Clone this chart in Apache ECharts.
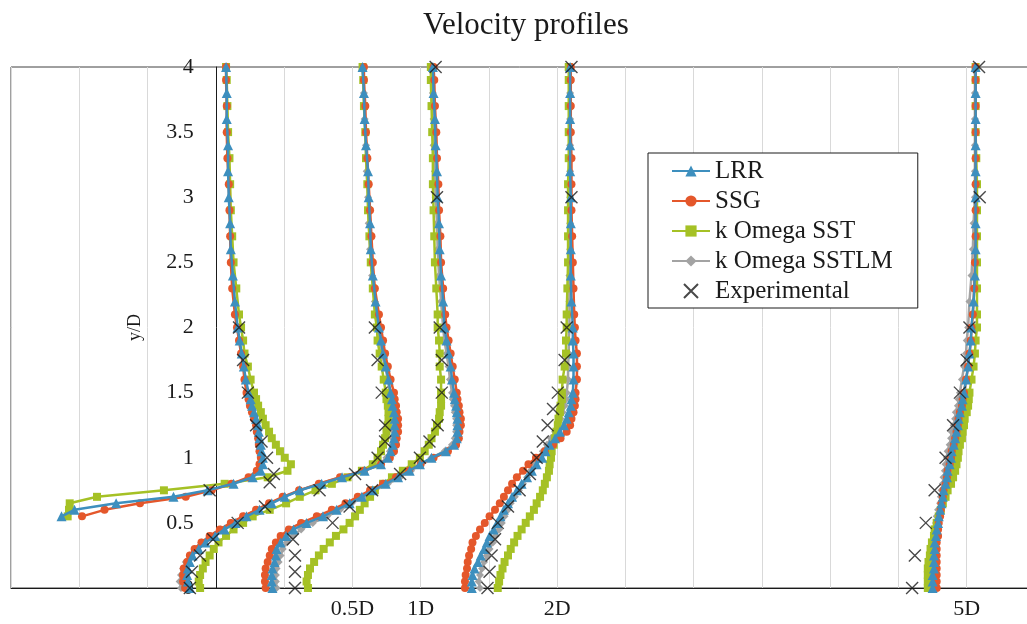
<!DOCTYPE html>
<html>
<head>
<meta charset="utf-8">
<script src="https://cdn.jsdelivr.net/npm/echarts@6/dist/echarts.min.js"></script>
<style>
html,body{margin:0;padding:0;background:#fff;}
#chart{width:1027px;height:624px;}
</style>
</head>
<body>
<div id="chart"></div>
<script>
// y/D sampling levels (LRR and SSTLM use the "even" upper levels, SSG and SST the "odd" ones)
const yLevels = [0,0.05,0.1,0.15,0.2,0.25,0.3,0.35,0.4,0.45,0.5,0.55,0.6,0.65,0.7,0.75,0.8,0.85,0.9,0.95,1,1.05,1.1,1.15,1.2,1.25,1.3,1.35,1.4,1.45,1.5,1.6,1.7,1.8,1.9,2,2.2,2.4,2.6,2.8,3,3.2,3.4,3.6,3.8,4];
const yLevelsOdd = [0,0.05,0.1,0.15,0.2,0.25,0.3,0.35,0.4,0.45,0.5,0.55,0.6,0.65,0.7,0.75,0.8,0.85,0.9,0.95,1,1.05,1.1,1.15,1.2,1.25,1.3,1.35,1.4,1.45,1.5,1.6,1.7,1.8,1.9,2,2.1,2.3,2.5,2.7,2.9,3.1,3.3,3.5,3.7,3.9,4];
const yLevelsA = [0.55,0.6,0.65,0.7,0.75,0.8,0.85,0.9,0.95,1,1.05,1.1,1.15,1.2,1.25,1.3,1.35,1.4,1.45,1.5,1.6,1.7,1.8,1.9,2,2.2,2.4,2.6,2.8,3,3.2,3.4,3.6,3.8,4];
const yLevelsAOdd = [0.55,0.6,0.65,0.7,0.75,0.8,0.85,0.9,0.95,1,1.05,1.1,1.15,1.2,1.25,1.3,1.35,1.4,1.45,1.5,1.6,1.7,1.8,1.9,2,2.1,2.3,2.5,2.7,2.9,3.1,3.3,3.5,3.7,3.9,4];

// Station A (first profile)
const LRR_A = [-2.26,-2.07,-1.46,-0.62,-0.12,0.26,0.54,0.66,0.69,0.69,0.67,0.66,0.64,0.63,0.62,0.59,0.56,0.53,0.51,0.48,0.44,0.41,0.38,0.35,0.32,0.28,0.25,0.22,0.21,0.19,0.18,0.18,0.16,0.16,0.15];
const SSG_A = [-1.96,-1.63,-1.11,-0.44,-0.06,0.23,0.48,0.60,0.64,0.66,0.64,0.63,0.62,0.60,0.59,0.56,0.53,0.50,0.48,0.45,0.42,0.40,0.37,0.34,0.31,0.28,0.24,0.22,0.21,0.20,0.19,0.17,0.16,0.16,0.15,0.15];
const SST_A = [-2.17,-2.15,-2.14,-1.74,-0.76,0.13,0.76,1.05,1.10,1.01,0.94,0.88,0.82,0.78,0.73,0.69,0.66,0.62,0.59,0.56,0.51,0.47,0.42,0.40,0.37,0.34,0.30,0.26,0.24,0.22,0.21,0.20,0.18,0.17,0.16,0.15];

// Station 0.5D
const LRR_B = [-0.38,-0.41,-0.42,-0.41,-0.38,-0.34,-0.25,-0.15,-0.01,0.13,0.29,0.45,0.64,0.82,1.01,1.23,1.55,1.85,2.18,2.42,2.52,2.56,2.59,2.61,2.62,2.62,2.62,2.61,2.59,2.58,2.56,2.53,2.49,2.45,2.42,2.39,2.34,2.30,2.27,2.26,2.24,2.23,2.20,2.18,2.17,2.15];
const SSG_B = [-0.45,-0.48,-0.48,-0.47,-0.42,-0.38,-0.31,-0.21,-0.09,0.06,0.22,0.40,0.59,0.78,0.98,1.22,1.51,1.82,2.17,2.42,2.55,2.61,2.64,2.65,2.67,2.67,2.67,2.65,2.64,2.62,2.61,2.56,2.52,2.48,2.45,2.42,2.39,2.33,2.30,2.28,2.26,2.24,2.22,2.20,2.19,2.17,2.17];
const SST_B = [-0.23,-0.25,-0.23,-0.19,-0.15,-0.09,-0.03,0.04,0.15,0.26,0.40,0.54,0.79,1.03,1.23,1.46,1.70,1.93,2.14,2.30,2.37,2.42,2.45,2.48,2.50,2.52,2.53,2.53,2.52,2.50,2.49,2.46,2.43,2.40,2.37,2.36,2.33,2.30,2.27,2.25,2.23,2.22,2.20,2.19,2.17,2.16,2.15];
const SSTLM_B = [-0.51,-0.53,-0.51,-0.48,-0.44,-0.38,-0.31,-0.21,-0.07,0.07,0.23,0.41,0.60,0.79,1.00,1.23,1.52,1.83,2.17,2.40,2.50,2.55,2.58,2.59,2.61,2.61,2.61,2.59,2.58,2.56,2.55,2.52,2.48,2.43,2.40,2.37,2.33,2.29,2.26,2.24,2.23,2.21,2.20,2.18,2.17,2.15];

// Station 1D
const LRR_C = [0.83,0.82,0.82,0.83,0.86,0.88,0.89,0.95,1.03,1.14,1.33,1.57,1.77,1.96,2.14,2.30,2.49,2.67,2.84,2.99,3.16,3.37,3.49,3.53,3.54,3.54,3.54,3.53,3.52,3.50,3.49,3.46,3.44,3.41,3.38,3.35,3.33,3.30,3.28,3.27,3.25,3.24,3.22,3.21,3.19,3.18];
const SSG_C = [0.73,0.72,0.72,0.73,0.76,0.79,0.82,0.88,0.95,1.07,1.25,1.48,1.70,1.90,2.08,2.26,2.45,2.64,2.83,3.00,3.19,3.40,3.52,3.56,3.57,3.59,3.59,3.57,3.56,3.54,3.53,3.50,3.47,3.44,3.41,3.38,3.36,3.33,3.30,3.29,3.27,3.26,3.24,3.23,3.21,3.20,3.19];
const SST_C = [1.35,1.33,1.35,1.38,1.44,1.51,1.58,1.67,1.76,1.87,1.96,2.04,2.11,2.18,2.26,2.33,2.45,2.58,2.74,2.87,2.99,3.06,3.12,3.16,3.21,3.24,3.27,3.28,3.30,3.30,3.30,3.30,3.28,3.28,3.27,3.25,3.25,3.23,3.21,3.20,3.19,3.18,3.18,3.17,3.16,3.15,3.15];
const SSTLM_C = [0.89,0.88,0.88,0.89,0.92,0.95,0.98,1.04,1.13,1.25,1.42,1.63,1.82,1.99,2.17,2.33,2.52,2.70,2.86,3.00,3.16,3.35,3.46,3.50,3.52,3.52,3.52,3.50,3.49,3.47,3.46,3.43,3.41,3.38,3.35,3.33,3.30,3.27,3.25,3.24,3.22,3.21,3.19,3.19,3.18,3.16];

// Station 2D
const LRR_D = [3.75,3.75,3.76,3.79,3.84,3.88,3.93,3.97,4.01,4.07,4.12,4.17,4.22,4.28,4.34,4.41,4.48,4.56,4.63,4.70,4.78,4.83,4.89,4.97,5.04,5.10,5.14,5.17,5.20,5.21,5.23,5.24,5.24,5.24,5.23,5.23,5.21,5.20,5.20,5.20,5.20,5.19,5.19,5.19,5.19,5.19];
const SSG_D = [3.65,3.65,3.66,3.68,3.69,3.71,3.74,3.76,3.81,3.87,3.94,4.01,4.09,4.16,4.22,4.28,4.34,4.41,4.50,4.58,4.69,4.82,4.94,5.05,5.14,5.19,5.21,5.24,5.26,5.27,5.27,5.29,5.29,5.29,5.27,5.26,5.25,5.24,5.23,5.22,5.21,5.21,5.21,5.20,5.20,5.20,5.20];
const SST_D = [4.13,4.15,4.17,4.20,4.23,4.28,4.32,4.37,4.42,4.48,4.54,4.60,4.66,4.70,4.75,4.79,4.82,4.85,4.88,4.89,4.91,4.92,4.95,4.97,4.99,5.01,5.02,5.04,5.05,5.07,5.07,5.08,5.11,5.13,5.13,5.14,5.14,5.15,5.16,5.16,5.16,5.16,5.17,5.17,5.17,5.17,5.17];
const SSTLM_D = [3.87,3.85,3.87,3.90,3.93,3.97,4.01,4.06,4.10,4.15,4.19,4.23,4.28,4.32,4.38,4.44,4.50,4.56,4.61,4.67,4.73,4.79,4.85,4.91,4.97,5.01,5.05,5.08,5.11,5.13,5.14,5.16,5.16,5.17,5.17,5.18,5.18,5.18,5.19,5.19,5.19,5.19,5.19,5.19,5.19,5.19];

// Station 5D
const LRR_E = [10.50,10.50,10.50,10.52,10.52,10.52,10.53,10.53,10.55,10.56,10.58,10.59,10.61,10.63,10.65,10.66,10.69,10.71,10.72,10.75,10.77,10.78,10.81,10.83,10.85,10.87,10.88,10.90,10.93,10.94,10.96,10.99,11.02,11.04,11.06,11.07,11.10,11.12,11.13,11.13,11.13,11.13,11.13,11.13,11.13,11.13];
const SSG_E = [10.56,10.56,10.56,10.56,10.56,10.56,10.56,10.56,10.58,10.58,10.59,10.61,10.62,10.63,10.65,10.66,10.69,10.71,10.72,10.75,10.77,10.78,10.81,10.83,10.85,10.87,10.88,10.90,10.93,10.94,10.96,10.99,11.02,11.04,11.06,11.07,11.09,11.11,11.12,11.13,11.13,11.13,11.13,11.13,11.13,11.13,11.13];
const SST_E = [10.43,10.43,10.43,10.43,10.44,10.46,10.47,10.49,10.52,10.53,10.56,10.59,10.62,10.65,10.69,10.72,10.77,10.80,10.83,10.85,10.87,10.88,10.90,10.93,10.94,10.96,10.97,11.00,11.02,11.03,11.04,11.07,11.10,11.12,11.13,11.15,11.15,11.15,11.15,11.15,11.15,11.15,11.14,11.13,11.13,11.13,11.13];
const SSTLM_E = [10.49,10.49,10.49,10.50,10.50,10.50,10.52,10.52,10.53,10.53,10.55,10.56,10.58,10.61,10.62,10.63,10.65,10.66,10.68,10.69,10.71,10.72,10.75,10.77,10.78,10.81,10.83,10.84,10.87,10.88,10.90,10.93,10.96,10.99,11.00,11.02,11.04,11.07,11.09,11.10,11.12,11.12,11.12,11.12,11.12,11.12];

// Experimental points
const expY_A = [0.75,0.8125,0.875,1,1.125,1.25,1.5,1.75,2];
const expX_A = [-0.09,0.79,0.85,0.75,0.67,0.59,0.47,0.40,0.34];
const expY_B = [0,0.125,0.25,0.375,0.5,0.625,0.75,0.875,1,1.125,1.25,1.5,1.75,2];
const expX_B = [-0.38,-0.35,-0.23,-0.04,0.32,0.72,1.52,2.04,2.37,2.48,2.48,2.43,2.37,2.33];
const expY_C = [0,0.125,0.25,0.375,0.5,0.625,0.75,0.875,1,1.125,1.25,1.5,1.75,2,3,4];
const expX_C = [1.16,1.16,1.16,1.13,1.71,1.96,2.29,2.70,2.99,3.13,3.25,3.31,3.31,3.28,3.24,3.22];
const expY_D = [0,0.125,0.25,0.375,0.5,0.625,0.75,0.875,1,1.125,1.25,1.375,1.5,1.75,2,3,4];
const expX_D = [3.98,4.01,4.04,4.09,4.13,4.28,4.45,4.60,4.70,4.79,4.86,4.94,5.01,5.11,5.14,5.21,5.21];
const expY_E = [0,0.25,0.5,0.75,1,1.25,1.5,1.75,2,3,4];
const expX_E = [10.20,10.24,10.40,10.53,10.69,10.80,10.90,11.00,11.04,11.19,11.18];

// Axis tick labels
const xTickValues = [2,3,5,11];
const xTickLabels = ['0.5D','1D','2D','5D'];
const legendNames = ['LRR','SSG','k Omega SST','k Omega SSTLM','Experimental'];

const FONT = 'Liberation Serif';
const pairs = (xs, ys) => xs.map((x, i) => [x, ys[i]]);

const evenY = [yLevelsA, yLevels, yLevels, yLevels, yLevels];
const oddY = [yLevelsAOdd, yLevelsOdd, yLevelsOdd, yLevelsOdd, yLevelsOdd];
const models = [
  {name:'k Omega SSTLM', color:'#A3A3A3', symbol:'diamond', size:8, z:2, ys:evenY,
   xs:[null, SSTLM_B, SSTLM_C, SSTLM_D, SSTLM_E]},
  {name:'k Omega SST', color:'#A5C125', symbol:'rect', size:8, z:3, ys:oddY,
   xs:[SST_A, SST_B, SST_C, SST_D, SST_E]},
  {name:'SSG', color:'#E4572B', symbol:'circle', size:8, z:4, ys:oddY,
   xs:[SSG_A, SSG_B, SSG_C, SSG_D, SSG_E]},
  {name:'LRR', color:'#3D8FBE', symbol:'triangle', size:10, z:5, ys:evenY,
   xs:[LRR_A, LRR_B, LRR_C, LRR_D, LRR_E]}
];

const series = [];
models.forEach(m => {
  m.xs.forEach((xs, k) => {
    if (!xs) return;
    series.push({
      type:'line', name:m.name, z:m.z,
      data: pairs(xs, m.ys[k]),
      symbol:m.symbol, symbolSize:m.size, showSymbol:true,
      lineStyle:{color:m.color, width:2.5},
      itemStyle:{color:m.color},
      animation:false
    });
  });
});
const expData = [].concat(
  pairs(expX_A, expY_A), pairs(expX_B, expY_B), pairs(expX_C, expY_C),
  pairs(expX_D, expY_D), pairs(expX_E, expY_E));
series.push({
  type:'scatter', name:'Experimental', z:10, data:expData,
  symbol:'path://M0,0L10,10M10,0L0,10', symbolSize:12,
  itemStyle:{color:'rgba(0,0,0,0)', borderColor:'#1a1a1a', borderWidth:1.4},
  animation:false
});

// grid geometry: x from -3 to 12, the y axis is drawn at x = 0
const GRID_LEFT = 11, GRID_RIGHT = -8, CHART_W = 1027;
const XMIN = -3, XMAX = 12;
const plotW = CHART_W - GRID_LEFT - GRID_RIGHT;
const yAxisOffset = -(0 - XMIN) / (XMAX - XMIN) * plotW;

const chart = echarts.init(document.getElementById('chart'), null, {renderer:'canvas'});
chart.setOption({
  backgroundColor:'#ffffff',
  animation:false,
  title:{
    text:'Velocity profiles', left:418, top:5,
    textStyle:{fontFamily:FONT, fontSize:31, fontWeight:'normal', color:'#1a1a1a'}
  },
  legend:{
    data:legendNames, orient:'vertical', left:648, top:153,
    backgroundColor:'#ffffff', borderColor:'#1a1a1a', borderWidth:1,
    padding:[5,25,4,23], itemWidth:38, itemHeight:14, itemGap:4,
    textStyle:{fontFamily:FONT, fontSize:25, color:'#1a1a1a', lineHeight:26}
  },
  grid:{left:GRID_LEFT, top:67, right:GRID_RIGHT, bottom:36, show:true,
        borderColor:'#404040', borderWidth:1, containLabel:false, outerBoundsMode:'none'},
  xAxis:{
    type:'value', min:XMIN, max:XMAX, interval:1,
    axisLine:{show:true, onZero:true, lineStyle:{color:'#1a1a1a', width:1}},
    axisTick:{show:false},
    splitLine:{show:true, lineStyle:{color:'#d9d9d9', width:1}},
    axisLabel:{
      fontFamily:FONT, fontSize:22, color:'#1a1a1a', margin:10,
      formatter: v => { const i = xTickValues.indexOf(v); return i >= 0 ? xTickLabels[i] : ''; }
    }
  },
  yAxis:{
    type:'value', min:0, max:4, interval:0.5, position:'left', offset:yAxisOffset,
    axisLine:{show:true, onZero:false, lineStyle:{color:'#1a1a1a', width:1}},
    axisTick:{show:false},
    splitLine:{show:false},
    axisLabel:{fontFamily:FONT, fontSize:22, color:'#1a1a1a', margin:22},
    name:'y/D', nameLocation:'middle', nameGap:72,
    nameTextStyle:{fontFamily:FONT, fontSize:18, color:'#1a1a1a'}
  },
  series: series
});
</script>
</body>
</html>
